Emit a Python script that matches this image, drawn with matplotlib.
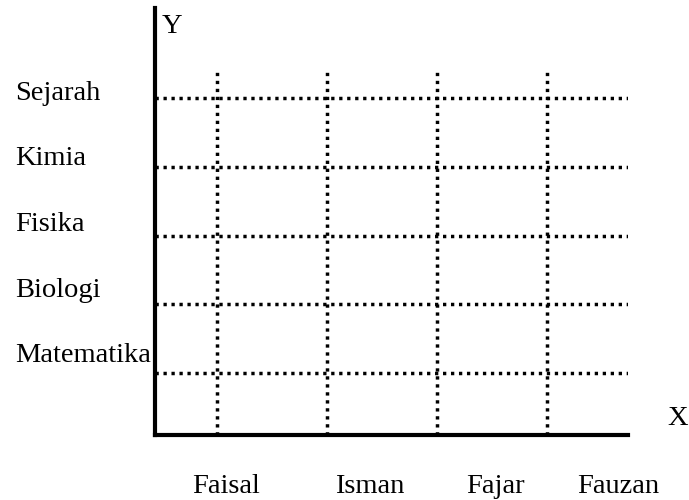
import matplotlib
matplotlib.use("Agg")
import matplotlib.pyplot as plt

students = ["Faisal", "Isman", "Fajar", "Fauzan"]
subjects = ["Matematika", "Biologi", "Fisika", "Kimia", "Sejarah"]
x_axis_label = "X"
y_axis_label = "Y"

W, H = 689, 500
DPI = 100
plt.rcParams['font.family'] = ['Liberation Serif', 'DejaVu Serif']
FS = 20.5

fig = plt.figure(figsize=(W / DPI, H / DPI), dpi=DPI)

# axes region in pixels
L, R, B, T = 155, 628, 435, 8
ax = fig.add_axes([L / W, 1 - B / H, (R - L) / W, (B - T) / H])

xs = list(range(len(students)))
ys = list(range(len(subjects)))
ax.set_xlim(-0.564, 3.736)
ax.set_ylim(-0.898, 5.308)

dot = (0, (0.95, 1.35))
for x in xs:
    ax.plot([x, x], [-0.898, 4.41], color='black', lw=2.5, linestyle=dot,
            dash_capstyle='butt')
for y in ys:
    ax.plot([-0.564, 3.736], [y, y], color='black', lw=2.5, linestyle=dot,
            dash_capstyle='butt')

for s in ['top', 'right']:
    ax.spines[s].set_visible(False)
for s in ['left', 'bottom']:
    ax.spines[s].set_linewidth(3.0)
    ax.spines[s].set_color('black')
ax.set_xticks([])
ax.set_yticks([])
ax.patch.set_alpha(0)

# subject labels (left), baselines in px
y_baselines = [362, 297, 231, 165, 100]
for name, yb in zip(subjects, y_baselines):
    fig.text(15 / W, 1 - yb / H, name, ha='left', va='baseline', fontsize=FS)

# student labels (bottom)
x_centers = [226, 370, 495, 618]
for name, xc in zip(students, x_centers):
    fig.text(xc / W, 1 - 493 / H, name, ha='center', va='baseline', fontsize=FS)

fig.text(162 / W, 1 - 33 / H, y_axis_label, ha='left', va='baseline', fontsize=FS)
fig.text(667 / W, 1 - 425 / H, x_axis_label, ha='left', va='baseline', fontsize=FS)

fig.savefig("out.png", dpi=DPI)
